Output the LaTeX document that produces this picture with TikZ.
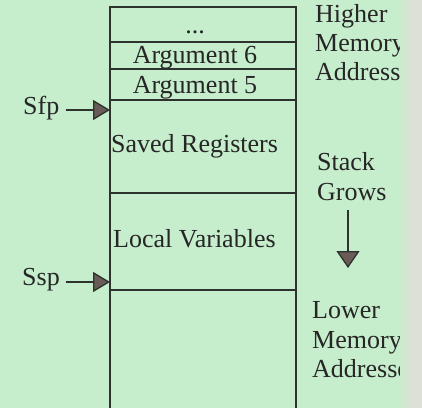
\documentclass[tikz,border=0pt]{standalone}
\usepackage{fontspec}
\setmainfont{Liberation Serif}
\usetikzlibrary{arrows.meta}
\definecolor{bggreen}{RGB}{198,237,204}
\definecolor{edgegray}{RGB}{220,224,214}
\definecolor{linegray}{RGB}{45,50,45}
\definecolor{headbrown}{RGB}{105,92,88}

\begin{document}
\begin{tikzpicture}[x=1pt,y=-1pt,
  lbl/.style={inner sep=0pt,anchor=base west,font=\fontsize{26}{30}\selectfont,text=black!85},
  ptr/.style={draw=linegray,line width=1.3pt,shorten <=6pt,
    -{Triangle[length=17pt,width=20pt,fill=headbrown]}}]
\fill[bggreen] (0,0) rectangle (422,408);
\useasboundingbox (0,0) rectangle (422,408);

% stack frame
\draw[linegray,line width=1.5pt] (110,408) -- (110,7) -- (296,7) -- (296,408);
\foreach \y in {42,69,100,193,290}
  \draw[linegray,line width=1.5pt] (110,\y) -- (296,\y);
\coordinate (fp) at (110,110);
\coordinate (sp) at (110,282);

% cells
\node[lbl,anchor=base] (dots) at (195,33) {...};
\node[lbl,anchor=base] (arg6) at (195,63) {Argument 6};
\node[lbl,anchor=base] (arg5) at (195,93) {Argument 5};
\node[lbl] (saved) at (111,152) {Saved Registers};
\node[lbl] (local) at (113,247) {Local Variables};

% pointers
\node[lbl] (Sfp) at (23,114) {Sfp};
\node[lbl] (Ssp) at (22,285) {Ssp};
\draw[ptr] (Sfp.east |- fp) -- (fp);
\draw[ptr] (Ssp.east |- sp) -- (sp);

% right side
\node[lbl] (higher) at (315,22) {Higher};
\node[lbl] (hmem) at (315,51) {Memory};
\node[lbl] (haddr) at (315,80) {Addresses};
\node[lbl] (stack) at (317,170) {Stack};
\node[lbl] (grows) at (317,200) {Grows};
\coordinate (down) at (348,268);
\draw[ptr,shorten <=10pt,-{Triangle[length=17pt,width=23pt,fill=headbrown]}] (grows.south -| down) -- (down);
\node[lbl] (lower) at (312,318) {Lower};
\node[lbl] (lmem) at (312,348) {Memory};
\node[lbl] (laddr) at (312,377) {Addresses};

% page edge
\foreach \i in {0,...,11}{
  \pgfmathtruncatemacro\pc{(\i+1)*100/12}
  \fill[edgegray!\pc!bggreen] (400+\i,0) rectangle (401.2+\i,408);
}
\fill[edgegray] (412,0) rectangle (422,408);
\end{tikzpicture}
\end{document}
